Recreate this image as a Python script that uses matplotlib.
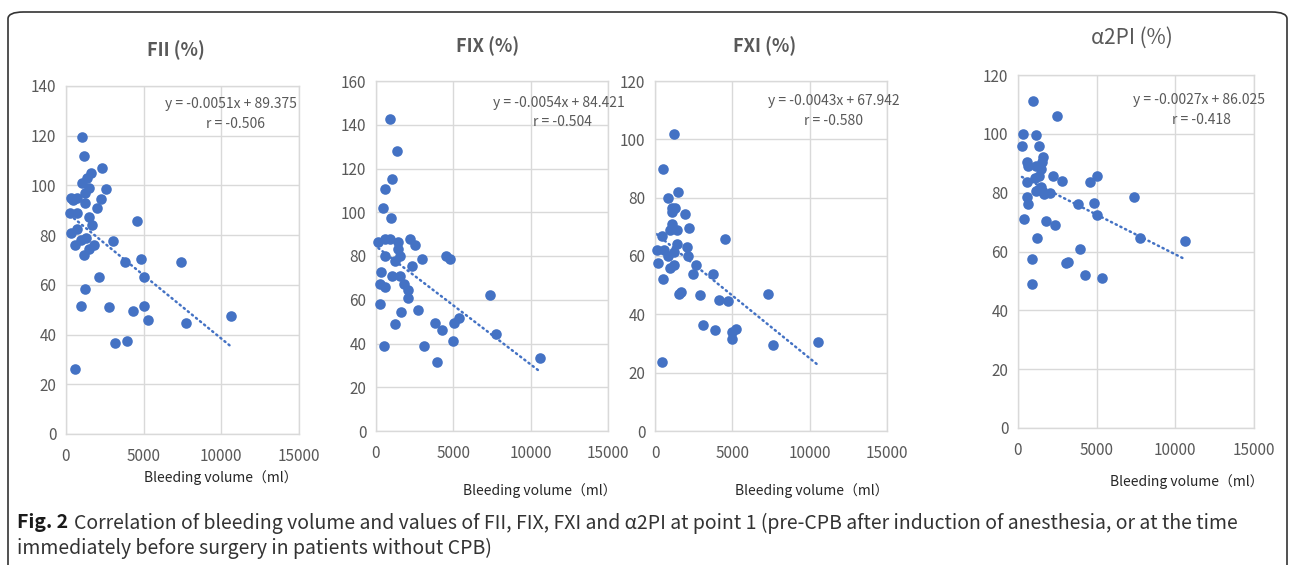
import numpy as np
import matplotlib.pyplot as plt
from matplotlib.patches import FancyBboxPatch

plt.rcParams['font.family'] = ['Noto Sans CJK SC', 'DejaVu Sans']

# bleeding volume (ml) and factor activity (%)
fii_x = [1000, 1150, 2300, 1600, 1350, 1000, 1450, 2550, 1200, 2250, 300, 700, 450, 1200, 2000,
         250, 700, 1500, 1650, 4600, 350, 700, 1300, 950, 3000, 550, 1800, 1500, 1150, 3800,
         4800, 7400, 2150, 5050, 1200, 950, 2750, 4300, 5000, 5300, 7750, 10600, 3150, 3950, 550]
fii_y = [119.5, 112, 107, 105, 103, 101, 99, 98.5, 97, 94.5, 95, 95, 94, 93, 91,
         89, 89, 87.5, 84, 85.5, 81, 82.5, 79, 78, 77.5, 76, 76, 74.5, 72, 69,
         70.5, 69, 63, 63, 58.5, 51.5, 51, 49.5, 51.5, 46, 44.5, 47.5, 36.5, 37.5, 26]

fix_x = [900, 1350, 1050, 600, 450, 950, 150, 600, 900, 1450, 2200, 2500, 1450, 550, 1550,
         1200, 4550, 4800, 3000, 2300, 300, 1050, 1550, 250, 550, 1800, 2050, 2100, 7350, 250,
         1600, 2700, 1250, 3800, 4250, 5050, 5350, 7750, 500, 3100, 5000, 3950, 10600]
fix_y = [142.5, 128, 115, 110.5, 102, 97.5, 86.5, 88, 88, 86.5, 88, 85, 83, 80, 80,
         77.5, 80, 78.5, 78.5, 75.5, 72.5, 71, 71, 67, 66, 67, 64.5, 61, 62, 58,
         54.5, 55.5, 49, 49.5, 46, 49.5, 51.5, 44.5, 39, 39, 41, 31.5, 33.5]

fxi_x = [1250, 500, 850, 1500, 1100, 1300, 1100, 1950, 1100, 950, 1400, 2200, 450, 4500,
         100, 550, 1400, 2050, 1200, 850, 2150, 200, 2650, 1200, 950, 2450, 3750, 500,
         1650, 1550, 2900, 4150, 4700, 7300, 3100, 3850, 5000, 5250, 4950, 7650, 10550, 450]
fxi_y = [102, 90, 80, 82, 76.5, 76.5, 75, 74.5, 71, 69, 69, 69.5, 67, 66,
         62, 62, 64, 63, 61.5, 60, 60, 57.5, 57, 57, 56, 54, 54, 52,
         47.5, 47, 46.5, 45, 44.5, 47, 36.5, 34.5, 34, 35, 31.5, 29.5, 30.5, 23.5]

a2pi_x = [950, 2500, 300, 1150, 250, 1350, 1600, 550, 1500, 650, 1150, 1450, 2200, 1350,
          5050, 2800, 600, 4550, 1100, 1450, 1150, 1650, 2050, 550, 1300, 7350, 650, 3800,
          4800, 5050, 350, 1800, 2350, 1200, 7750, 10600, 3950, 900, 3050, 3200, 4250, 5350, 900]
a2pi_y = [111, 106, 100, 99.5, 96, 96, 92, 90.5, 90.5, 89, 89, 88, 85.5, 85.5,
          85.5, 84, 83.5, 83.5, 85, 82, 80.5, 79.5, 80, 78.5, 81, 78.5, 76, 76,
          76.5, 72.5, 71, 70.5, 69, 64.5, 64.5, 63.5, 61, 57.5, 56, 56.5, 52, 51, 49]

titles = ['FII (%)', 'FIX (%)', 'FXI (%)', 'α2PI (%)']
slopes = [-0.0051, -0.0054, -0.0043, -0.0027]
intercepts = [89.375, 84.421, 67.942, 86.025]
r_values = ['-0.506', '-0.504', '-0.580', '-0.418']
y_max = [140, 160, 120, 120]

W, H = 1290, 565
fig = plt.figure(figsize=(12.9, 5.65), dpi=100)


def fx(px):
    return px / W


def fy(py):
    return 1 - py / H


# pixel boxes: left, right, top, bottom
boxes = [(66, 299, 86, 434), (376, 608, 81, 431), (655, 887, 81, 431), (1018, 1254, 75, 428)]
title_pos = [(176, 50), (488, 46), (765, 46), (1132, 38)]
eq_pos = [(231, 104, 236, 124), (559, 103, 562, 122), (834, 101, 834, 121), (1199, 100, 1201, 120)]
xlab_pos = [(221, 478), (540, 491), (812, 491), (1187, 482)]

blue = '#4472C4'
gray = '#595959'
xs = [fii_x, fix_x, fxi_x, a2pi_x]
ys = [fii_y, fix_y, fxi_y, a2pi_y]

for i in range(4):
    l, r, t, b = boxes[i]
    ax = fig.add_axes([fx(l), fy(b), fx(r) - fx(l), (b - t) / H])
    x = np.array(xs[i])
    y = np.array(ys[i])
    ax.scatter(x, y, s=58, color=blue, linewidths=0, zorder=3, clip_on=False)
    xl = np.array([x.min(), x.max()])
    ax.plot(xl, slopes[i] * xl + intercepts[i], color=blue, lw=1.8,
            linestyle=(0, (0.5, 1.6)), dash_capstyle='round', zorder=2)
    ax.set_xlim(0, 15000)
    ax.set_ylim(0, y_max[i])
    ax.set_xticks([0, 5000, 10000, 15000])
    ax.set_yticks(range(0, y_max[i] + 1, 20))
    ax.grid(color='#D9D9D9', lw=1)
    ax.set_axisbelow(True)
    for s in ax.spines.values():
        s.set_color('#D9D9D9')
        s.set_linewidth(1)
    ax.tick_params(length=0, labelsize=11, colors=gray)
    ax.tick_params(axis='x', pad=10)
    ax.tick_params(axis='y', pad=7)

    tx, ty = title_pos[i]
    if i < 3:
        fig.text(fx(tx), fy(ty), titles[i], ha='center', va='center', fontsize=13,
                 fontweight='bold', color=gray)
    else:
        fig.text(fx(tx), fy(ty), titles[i], ha='center', va='center', fontsize=15,
                 color=gray)

    ex, ey, rx, ry = eq_pos[i]
    fig.text(fx(ex), fy(ey), 'y = %.4fx + %.3f' % (slopes[i], intercepts[i]),
             ha='center', va='center', fontsize=10, color=gray)
    fig.text(fx(rx), fy(ry), 'r = ' + r_values[i], ha='center', va='center',
             fontsize=10, color=gray)

    lx, ly = xlab_pos[i]
    fig.text(fx(lx), fy(ly), 'Bleeding volume（ml）', ha='center', va='center',
             fontsize=10, color='#262626')

# frame around the figure panel
frame = FancyBboxPatch((fx(8), fy(600)), fx(1287) - fx(8), (600 - 12) / H,
                       boxstyle='round,pad=0,rounding_size=0.012', transform=fig.transFigure,
                       fill=False, edgecolor='#333333', lw=1.2, clip_on=False)
fig.patches.append(frame)

fig.text(fx(17), fy(523), 'Fig. 2', ha='left', va='center', fontsize=14,
         fontweight='bold', color='#1a1a1a')
fig.text(fx(74), fy(523), 'Correlation of bleeding volume and values of FII, FIX, FXI and α2PI at point 1 '
         '(pre-CPB after induction of anesthesia, or at the time',
         ha='left', va='center', fontsize=14, color='#333333')
fig.text(fx(17), fy(548), 'immediately before surgery in patients without CPB)', ha='left',
         va='center', fontsize=14, color='#333333')

fig.savefig('out.png', dpi=100)
